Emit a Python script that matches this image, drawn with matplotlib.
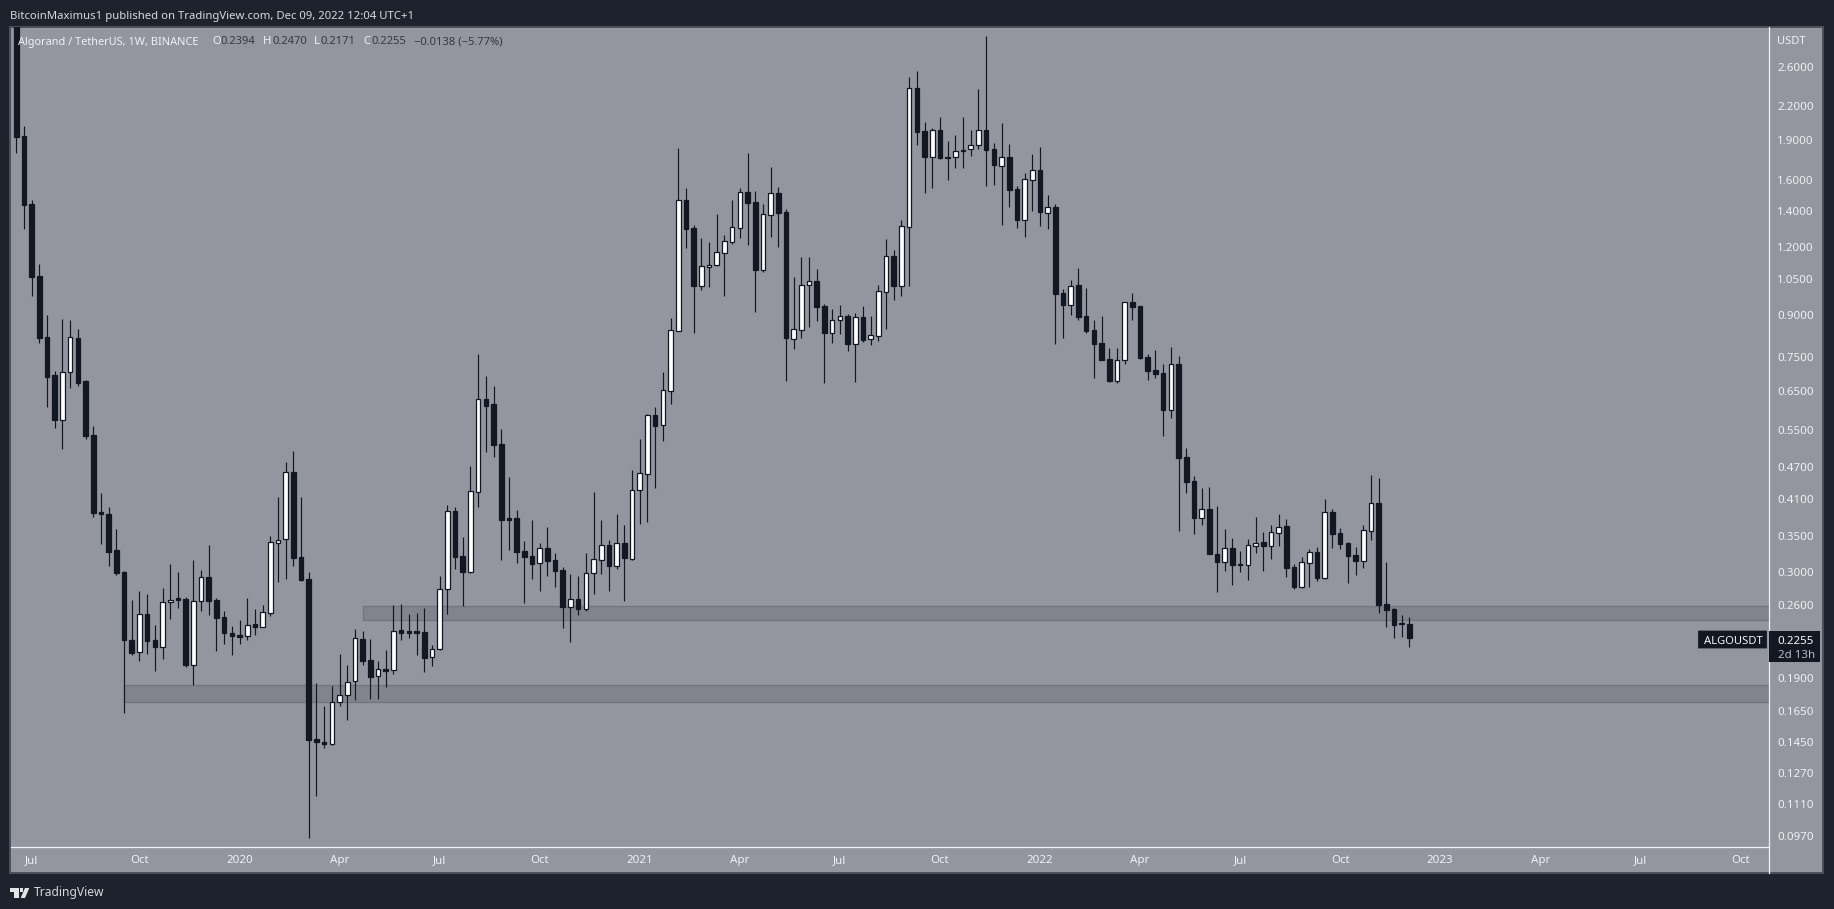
import matplotlib
matplotlib.use("Agg")
import matplotlib.pyplot as plt
from matplotlib.patches import Rectangle, Polygon, FancyBboxPatch
from matplotlib.lines import Line2D
from matplotlib.ticker import FixedLocator, FixedFormatter, NullLocator

plt.rcParams['font.family'] = ['Noto Sans', 'DejaVu Sans']

# ---------- data: weekly ALGO/USDT candles ----------
opens = [4.10,1.930,1.445,1.062,.8183,.6955,.5744,.7036,.8149,.6779,
 .5380,.3871,.3838,.3291,.2995,.2239,.2125,.2503,.2239,.2176,
 .2631,.2676,.2668,.2010,.2642,.2932,.2657,.2471,.2304,.2287,
 .2275,.2395,.2370,.2517,.3395,.3443,.4594,.3194,.2907,.1466,
 .1448,.1437,.1716,.1767,.1876,.2249,.2056,.1918,.1975,.1967,
 .2334,.2324,.2324,.2317,.2080,.2151,.2780,.3887,.3208,.2999,
 .4222,.6267,.6144,.5178,.3773,.3773,.3277,.3204,.3109,.3313,
 .3153,.3021,.2582,.2664,.2560,.2978,.3157,.3361,.3077,.3390,
 .3171,.4247,.4560,.5861,.5609,.6503,.8407,1.470,1.305,1.019,
 1.103,1.115,1.173,1.230,1.306,1.522,1.456,1.092,1.381,1.515,
 1.395,.8123,.8442,1.021,1.040,.9343,.8335,.8789,.8953,.7952,
 .8914,.8101,.8229,.9937,1.157,1.019,1.312,2.373,1.974,1.770,
 1.980,1.767,1.765,1.811,1.825,1.862,1.980,1.825,1.703,1.767,
 1.539,1.352,1.604,1.670,1.393,1.427,.9869,.9395,1.021,.8953,
 .8421,.7965,.7448,.6788,.7406,.9505,.9343,.7513,.7097,.7016,
 .5996,.7290,.4898,.4420,.3778,.3921,.3235,.3130,.3319,.3099,
 .3090,.3351,.3405,.3351,.3543,.3646,.3060,.2809,.3117,.3263,
 .2923,.3871,.3538,.3390,.3221,.3144,.3573,.4023,.2612,.2557,
 .2410,.2394]
highs = [4.60,2.018,1.470,1.119,.8990,.7076,.8838,.8800,.8467,.6808,
 .5593,.4199,.3955,.3600,.3008,.2657,.2758,.2726,.2384,.2792,
 .3096,.2991,.2688,.3149,.3021,.3357,.2680,.2532,.2377,.2436,
 .2680,.2557,.2597,.3489,.4127,.4788,.5019,.4127,.2991,.1863,
 .1689,.1837,.2110,.2012,.2343,.2327,.2249,.2047,.2146,.2601,
 .2612,.2503,.2514,.2568,.2189,.2945,.3983,.3950,.3478,.4706,
 .7610,.6926,.6636,.5521,.4496,.3904,.3419,.3736,.3386,.3631,
 .3245,.3056,.2970,.2945,.3245,.4211,.3736,.3434,.3838,.3657,
 .4633,.5289,.5879,.6066,.7046,.8876,1.836,1.548,1.321,1.250,
 1.228,1.385,1.264,1.470,1.546,1.798,1.528,1.445,1.694,1.555,
 1.412,1.058,1.152,1.152,1.095,.9423,.9224,.9383,.9029,.9068,
 .9343,.8953,1.022,1.244,1.187,1.350,2.488,2.553,2.050,1.997,
 2.095,1.892,1.938,2.095,1.980,2.360,2.965,1.873,2.041,1.865,
 1.559,1.648,1.788,1.844,1.500,1.445,1.005,1.043,1.100,1.009,
 .8800,.8953,.7808,.7808,.9500,.9883,.9343,.7610,.7741,.7290,
 .7841,.7545,.5090,.4516,.4290,.4308,.3972,.3600,.3464,.3277,
 .3449,.3789,.3554,.3662,.3838,.3756,.3099,.3194,.3304,.3333,
 .4092,.3921,.3615,.3405,.3333,.3662,.4535,.4477,.3126,.2568,
 .2492,.2470]
lows = [1.800,1.299,.9769,.7986,.6074,.5545,.5068,.6587,.6644,.5289,
 .3789,.3376,.3077,.2961,.1641,.2103,.2050,.2112,.1964,.2067,
 .2453,.2571,.1998,.1849,.2538,.2495,.2140,.2204,.2103,.2204,
 .2242,.2290,.2370,.2485,.2873,.2907,.3077,.2885,.0958,.1151,
 .1413,.1431,.1691,.1592,.1734,.2015,.1742,.1742,.1834,.1939,
 .2242,.2258,.2103,.1956,.2006,.2148,.2506,.3034,.2593,.2986,
 .3960,.5010,.4905,.3157,.3294,.3117,.2626,.2910,.2765,.2948,
 .2812,.2360,.2223,.2495,.2538,.2729,.2974,.2765,.3038,.2649,
 .3157,.3682,.3709,.4295,.5251,.6144,.8407,1.197,.8335,1.001,
 1.013,1.109,.9757,1.218,1.250,1.213,.9107,1.081,1.255,1.202,
 .6779,.7783,.8149,.8552,.8762,.6722,.7976,.8289,.7708,.6750,
 .8020,.7908,.8044,.8467,.9586,.9757,1.018,1.860,1.517,1.550,
 1.754,1.604,1.688,1.688,1.777,1.830,1.563,1.570,1.323,1.429,
 1.306,1.257,1.405,1.317,1.301,.7952,.8159,.9002,.8811,.8335,
 .6876,.7426,.6750,.6722,.7290,.8800,.7448,.6808,.6867,.5358,
 .5787,.3569,.4199,.3523,.3662,.3239,.2749,.3008,.2833,.2995,
 .2894,.3249,.3008,.3167,.3347,.2932,.2785,.2797,.2809,.2882,
 .2907,.3319,.3304,.2857,.2957,.3047,.3434,.2514,.2367,.2258,
 .2268,.2171]
closes = [1.927,1.441,1.059,.8159,.6906,.5744,.7036,.8173,.6730,.5365,
 .3859,.3838,.3267,.2986,.2242,.2121,.2500,.2232,.2176,.2631,
 .2660,.2660,.2015,.2642,.2928,.2649,.2464,.2310,.2281,.2271,
 .2390,.2370,.2521,.3400,.3438,.4588,.3184,.2894,.1462,.1449,
 .1437,.1716,.1767,.1869,.2255,.2050,.1914,.1975,.1964,.2324,
 .2310,.2310,.2310,.2076,.2151,.2780,.3882,.3198,.2999,.4229,
 .6267,.6099,.5162,.3741,.3745,.3267,.3198,.3104,.3313,.3144,
 .3012,.2582,.2664,.2560,.2978,.3162,.3357,.3077,.3386,.3184,
 .4247,.4568,.5853,.5600,.6515,.8421,1.468,1.301,1.019,1.108,
 1.115,1.175,1.232,1.309,1.520,1.453,1.092,1.383,1.513,1.393,
 .8149,.8454,1.021,1.038,.9303,.8335,.8789,.8941,.7952,.8903,
 .8079,.8242,.9954,1.155,1.019,1.314,2.370,1.969,1.770,1.980,
 1.762,1.762,1.811,1.823,1.862,1.980,1.823,1.710,1.765,1.537,
 1.352,1.606,1.670,1.399,1.425,.9853,.9395,1.019,.8926,.8407,
 .7952,.7426,.6779,.7406,.9492,.9316,.7490,.7085,.6985,.5996,
 .7281,.4884,.4407,.3778,.3915,.3239,.3130,.3313,.3090,.3086,
 .3357,.3395,.3351,.3549,.3626,.3051,.2809,.3122,.3259,.2919,
 .3866,.3523,.3376,.3208,.3139,.3579,.4018,.2601,.2546,.2387,
 .2394,.2255]

price_ticks = [2.6, 2.2, 1.9, 1.6, 1.4, 1.2, 1.05, .9, .75, .65, .55,
               .47, .41, .35, .30, .26, .19, .165, .145, .127, .111, .097]
time_tick_weeks = [2, 16, 29, 42, 55, 68, 81, 94, 107, 120, 133, 146, 159, 172, 185, 198, 211, 224]
time_tick_labels = ['Jul', 'Oct', '2020', 'Apr', 'Jul', 'Oct', '2021', 'Apr', 'Jul', 'Oct',
                    '2022', 'Apr', 'Jul', 'Oct', '2023', 'Apr', 'Jul', 'Oct']
zone_start_week = [45, 14]
zone_high = [.2586, .1845]
zone_low = [.2436, .1720]

title = 'BitcoinMaximus1 published on TradingView.com, Dec 09, 2022 12:04 UTC+1'
symbol = 'Algorand / TetherUS, 1W, BINANCE'
ohlc_names = ['O', 'H', 'L', 'C']
ohlc_values = ['0.2394', '0.2470', '0.2171', '0.2255']
change = '\u22120.0138 (\u22125.77%)'

# ---------- style ----------
W, H = 1834, 909
BG = '#1e222d'
PANEL = '#93969f'
PANEL_EDGE = '#4d505b'
DARK = '#131722'
TXT = '#f0f1f4'
ZONE = '#82848d'
ZONE_EDGE = '#74767f'

fig = plt.figure(figsize=(W / 100, H / 100), dpi=100, facecolor=BG)

def px(x, y):
    return x / W, 1 - y / H

def label(x, y, s, color=TXT, size=8.3, ha='left', **kw):
    fx, fy = px(x, y)
    return fig.text(fx, fy, s, color=color, fontsize=size, ha=ha, va='center', **kw)

# panel behind chart and axes
fig.add_artist(Rectangle((10 / W, 1 - 873 / H), (1823 - 10) / W, (873 - 26.5) / H,
                         transform=fig.transFigure, facecolor=PANEL,
                         edgecolor=PANEL_EDGE, linewidth=1.4, zorder=0))

L, R, T, B = 10.5, 1768.5, 27.0, 846.5
ax = fig.add_axes([L / W, 1 - B / H, (R - L) / W, (B - T) / H])
ax.set_facecolor('none')
ax.set_yscale('log')
ax.set_ylim(2.6 * 2.718281828 ** (-(B - 66.7) / 233.8), 2.6 * 2.718281828 ** ((66.7 - T) / 233.8))
x0, step = 16.3, 7.697
ax.set_xlim((L - x0) / step, (R - x0) / step)

for s in ['top', 'left']:
    ax.spines[s].set_visible(False)
for s in ['right', 'bottom']:
    ax.spines[s].set_color('#f0f1f3')
    ax.spines[s].set_linewidth(0.9)

# zones
for st, hi, lo in zip(zone_start_week, zone_high, zone_low):
    ax.add_patch(Rectangle((st, lo), 300, hi - lo, facecolor=ZONE, edgecolor=ZONE_EDGE,
                           linewidth=1.0, zorder=1))

# candles
weeks = list(range(len(opens)))
ax.vlines(weeks, lows, highs, color=DARK, linewidth=0.85, zorder=2)
for w, o, c in zip(weeks, opens, closes):
    up = c > o
    ax.bar(w, abs(c - o), bottom=min(o, c), width=0.6,
           color='#ffffff' if up else DARK, edgecolor=DARK, linewidth=0.9, zorder=3)

# axes ticks
ax.yaxis.tick_right()
ax.yaxis.set_major_locator(FixedLocator(price_ticks))
ax.yaxis.set_major_formatter(FixedFormatter(['%.4f' % p for p in price_ticks]))
ax.yaxis.set_minor_locator(NullLocator())
ax.xaxis.set_major_locator(FixedLocator(time_tick_weeks))
ax.xaxis.set_major_formatter(FixedFormatter(time_tick_labels))
ax.tick_params(axis='y', length=0, pad=6.4, labelsize=8.3, labelcolor=TXT)
ax.tick_params(axis='x', length=0, pad=6.0, labelsize=8.3, labelcolor=TXT)
for t, s in zip(ax.get_xticklabels(), time_tick_labels):
    if s.isdigit():
        t.set_fontweight('bold')

# vertical separator continuing through time axis
fig.add_artist(Line2D([R / W, R / W], [1 - 873 / H, 1 - B / H], color='#f0f1f3', linewidth=0.9))

# header / legend texts
label(10, 16.5, title, color='#d8d9de', size=8.15)
label(18.3, 42, symbol, color=TXT, size=7.9)
for xn, xv, n, v in zip([212, 263.3, 314, 363], [220.7, 272.3, 320.3, 371.7], ohlc_names, ohlc_values):
    label(xn, 42, n, color=TXT, size=8.1)
    label(xv, 42, v, color='#353945', size=8.1)
label(414.3, 42, change, color='#353945', size=8.1)
label(1777.5, 41, 'USDT', color=TXT, size=8.0)

# last price tags
fig.add_artist(FancyBboxPatch((1699.5 / W, 1 - 647 / H), 66 / W, 15 / H, transform=fig.transFigure,
                              boxstyle='round,pad=0', facecolor=DARK, edgecolor=DARK, linewidth=2))
fig.add_artist(Rectangle((1769 / W, 1 - 662 / H), 51 / W, 31 / H, transform=fig.transFigure,
                         facecolor=DARK, edgecolor='none'))
label(1703.5, 641, 'ALGOUSDT', color='#f2f3f5', size=8.1)
label(1777.5, 641.5, '0.2255', color='#f8f8fa', size=8.3)
label(1777.5, 655, '2d 13h', color='#b8bac1', size=8.3)

# footer logo + wordmark
fig.add_artist(Polygon([px(10.3, 888), px(18.5, 888), px(18.5, 898), px(14, 898), px(14, 891.8), px(10.3, 891.8)],
                       closed=True, transform=fig.transFigure, facecolor='#e4e5e9', edgecolor='none'))
fig.add_artist(Polygon([px(19.5, 888), px(23, 888), px(23, 891.8), px(19.5, 891.8)],
                       closed=True, transform=fig.transFigure, facecolor='#e4e5e9', edgecolor='none'))
fig.add_artist(Polygon([px(25, 888), px(29.3, 888), px(25, 898), px(20.7, 898)],
                       closed=True, transform=fig.transFigure, facecolor='#e4e5e9', edgecolor='none'))
label(33.4, 892.5, 'TradingView', color='#d8d9de', size=8.7)

fig.savefig('out.png', dpi=100, facecolor=BG)
